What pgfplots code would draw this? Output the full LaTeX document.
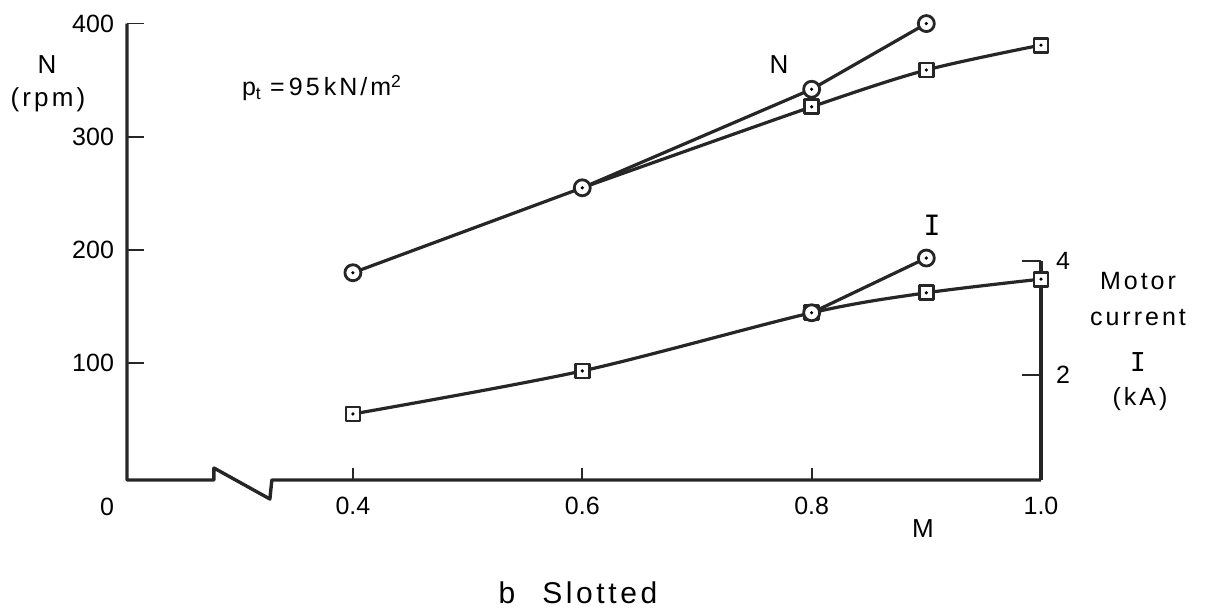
\documentclass[border=0pt]{standalone}
\usepackage{fontspec}
\setmainfont{Liberation Sans}
\newfontfamily\spaced[LetterSpace=12]{Liberation Sans}
\newfontfamily\serifI{DejaVu Sans Mono}
\usepackage{pgfplots}
\pgfplotsset{compat=1.18}

% open markers with a centre dot
\pgfdeclareplotmark{odot}{%
  \pgfpathcircle{\pgfpointorigin}{\pgfplotmarksize}%
  \pgfusepathqfillstroke
  \pgfscope\pgfsetfillcolor{black}%
  \pgfpathcircle{\pgfpointorigin}{0.9pt}\pgfusepathqfill
  \endpgfscope}
\pgfdeclareplotmark{sqdot}{%
  \pgfpathrectangle{\pgfpoint{-\pgfplotmarksize}{-\pgfplotmarksize}}%
    {\pgfpoint{2\pgfplotmarksize}{2\pgfplotmarksize}}%
  \pgfusepathqfillstroke
  \pgfscope\pgfsetfillcolor{black}%
  \pgfpathcircle{\pgfpointorigin}{0.9pt}\pgfusepathqfill
  \endpgfscope}

\colorlet{ink}{black!85}

\pgfplotsset{
  frame/.style={
    at={(0,0)}, anchor=south west, scale only axis,
    width=457pt, height=228.2pt,
    xmin=0.203, xmax=1.0,
    axis line style={draw=none},
    tick align=inside,
    clip=false,
    tick style={ink, line width=0.9pt},
    tick label style={font=\fontsize{12.5}{14}\selectfont},
    /pgf/number format/assume math mode=true,
  },
  curve/.style={ink, line width=1.6pt, line join=round,
    mark options={solid, fill=white, draw=ink, line width=1.4pt}},
}

\begin{document}
\begin{tikzpicture}
\path[use as bounding box] (-63.5pt,-66.5pt) rectangle (539pt,240pt);

% speed N (rpm)
\begin{axis}[frame,
  ymin=-3, ymax=400,
  xtick=\empty,
  ytick={100,200,300,400}, ytick pos=left,
  major tick length=8.5pt,
  yticklabel style={xshift=-3pt},
]
\addplot[curve, mark=odot, mark size=4pt] coordinates {
  (0.4,180) (0.6,255) (0.8,342) (0.9,400)};
\addplot[curve, smooth, mark=sqdot, mark size=3.5pt, mark indices={2,3,4}] coordinates {
  (0.6,255) (0.8,326.5) (0.9,359) (1.0,381)};
% axes with the break in M
\draw[ink, line width=1.7pt, line join=round]
  (axis cs:0.203,400) -- (axis cs:0.203,-3) -- (axis cs:0.2788,-3)
  -- (axis cs:0.2788,7.6) -- (axis cs:0.3276,-19.8) -- (axis cs:0.3293,-3)
  -- (axis cs:1.0,-3);
\end{axis}

% motor current I (kA)
\begin{axis}[frame,
  ymin=0.158, ymax=8.161,
  xtick=\empty,
  ytick={2,4}, ytick pos=right,
  major tick length=9.5pt,
  yticklabel style={xshift=4pt},
]
\addplot[curve, smooth, mark=sqdot, mark size=3.5pt] coordinates {
  (0.4,1.316) (0.6,2.07) (0.8,3.09) (0.9,3.44) (1.0,3.68)};
\addplot[curve, mark=odot, mark size=4pt] coordinates {
  (0.8,3.09) (0.9,4.05)};
\draw[ink, line width=1.7pt] (axis cs:1.0,0.158) -- (axis cs:1.0,4);
\end{axis}

% M ticks
\begin{axis}[frame,
  ymin=0, ymax=1,
  ytick=\empty,
  xtick={0.4,0.6,0.8,1.0}, xtick pos=left,
  xticklabels={0.4,0.6,0.8,1.0},
  major tick length=6pt,
  xticklabel style={yshift=-5pt},
]
\end{axis}

\node[font=\fontsize{12.5}{14}\selectfont] at (-10pt,-13.5pt) {0};
\node[font=\fontsize{13}{15}\spaced] at (398pt,-24.5pt) {M};
\node[font=\fontsize{13}{15}\spaced] at (-40pt,207.5pt) {N};
\node[font=\fontsize{13}{15}\spaced] at (-39.5pt,190pt) {(rpm)};
\node[font=\fontsize{12.5}{15}\spaced] at (97.5pt,196pt)
  {p\textsubscript{t}\,\,=\,95\,kN/m\textsuperscript{2}};
\node[font=\fontsize{13}{15}\spaced] at (326pt,207.5pt) {N};
\node[font=\fontsize{14}{15}\serifI] at (402.5pt,127.5pt) {I};
\node[font=\fontsize{12.5}{14}\spaced] at (505.5pt,99.5pt) {Motor};
\node[font=\fontsize{12.5}{14}\spaced] at (505.5pt,81pt) {current};
\node[font=\fontsize{13}{14}\serifI] at (505.5pt,59pt) {I};
\node[font=\fontsize{12.5}{14}\spaced] at (506.5pt,40.5pt) {(kA)};
\node[font=\fontsize{15}{17}\spaced] at (225.5pt,-56.5pt) {b\hspace{0.9em}Slotted};
\end{tikzpicture}
\end{document}
